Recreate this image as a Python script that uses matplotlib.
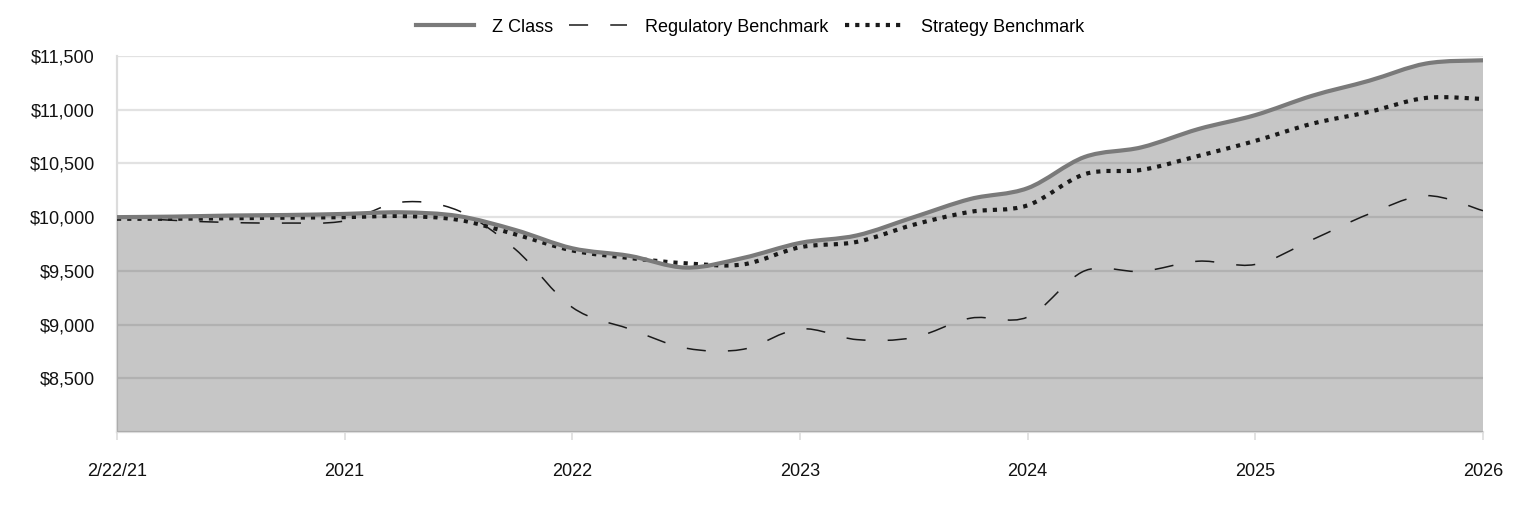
import numpy as np
import matplotlib
matplotlib.use("Agg")
import matplotlib.pyplot as plt
from matplotlib.path import Path
from matplotlib.patches import PathPatch
from matplotlib.lines import Line2D

plt.rcParams['font.family'] = ['Liberation Sans', 'DejaVu Sans']

# ---- data (quarterly observations, period index in years from start) ----
quarter_index = list(range(25))
z_class = [10000, 10005, 10015, 10020, 10030, 10045, 10010, 9880, 9710, 9640,
           9530, 9620, 9760, 9830, 10000, 10170, 10270, 10560, 10650, 10820,
           10950, 11130, 11270, 11430, 11460]
strategy_benchmark = [9985, 9985, 9990, 9995, 10000, 10010, 9975, 9840, 9690, 9620,
                      9570, 9560, 9720, 9770, 9930, 10050, 10110, 10400, 10440, 10570,
                      10710, 10870, 10980, 11110, 11100]
regulatory_benchmark = [10000, 9970, 9950, 9945, 9965, 10140, 10060, 9700, 9160, 8960,
                        8780, 8770, 8960, 8860, 8880, 9060, 9070, 9500, 9495, 9590,
                        9560, 9790, 10030, 10200, 10060]
tick_labels = ["2/22/21", "2021", "2022", "2023", "2024", "2025", "2026"]
y_ticks = [8500, 9000, 9500, 10000, 10500, 11000, 11500]
series_names = ["Z Class", "Regulatory Benchmark", "Strategy Benchmark"]

x = np.array(quarter_index) / 4.0


def smooth_verts(xs, ys):
    xs = np.asarray(xs, float)
    ys = np.asarray(ys, float)
    n = len(xs)
    verts = [(xs[0], ys[0])]
    codes = [Path.MOVETO]
    for i in range(n - 1):
        p0 = i - 1 if i > 0 else i
        p3 = i + 2 if i + 2 < n else i + 1
        c1 = (xs[i] + (xs[i + 1] - xs[p0]) / 6, ys[i] + (ys[i + 1] - ys[p0]) / 6)
        c2 = (xs[i + 1] - (xs[p3] - xs[i]) / 6, ys[i + 1] - (ys[p3] - ys[i]) / 6)
        verts += [c1, c2, (xs[i + 1], ys[i + 1])]
        codes += [Path.CURVE4] * 3
    return verts, codes


fig = plt.figure(figsize=(15.24, 5.16), dpi=100)
ax = fig.add_axes([117 / 1524, 1 - 432 / 516, (1483 - 117) / 1524, (432 - 56) / 516])

ymin, ymax = 8000, 11500
ax.set_xlim(0, 6)
ax.set_ylim(ymin, ymax)

# area fill under Z Class
v, c = smooth_verts(x, z_class)
fv = v + [(x[-1], ymin), (x[0], ymin), (x[0], v[0][1])]
fc = c + [Path.LINETO, Path.LINETO, Path.CLOSEPOLY]
ax.add_patch(PathPatch(Path(fv, fc), facecolor='#333333', alpha=0.28,
                       edgecolor='none', zorder=2))

z_style = dict(edgecolor='#7a7a7a', linewidth=3.0, linestyle='-')
reg_style = dict(edgecolor='#1a1a1a', linewidth=1.1, linestyle=(0, (12.5, 14.5)))
str_style = dict(edgecolor='#1a1a1a', linewidth=3.0, linestyle=(0, (1.0, 1.45)))

vr, cr = smooth_verts(x, regulatory_benchmark)
ax.add_patch(PathPatch(Path(vr, cr), fill=False, capstyle='butt', zorder=3, **reg_style))
vs, cs = smooth_verts(x, strategy_benchmark)
ax.add_patch(PathPatch(Path(vs, cs), fill=False, capstyle='butt', zorder=4, **str_style))
ax.add_patch(PathPatch(Path(v, c), fill=False, capstyle='round', joinstyle='round',
                       zorder=5, **z_style))

# grid & axes styling
ax.set_axisbelow(True)
ax.yaxis.grid(True, color='#e2e2e2', linewidth=1.6, zorder=0)
ax.set_yticks(y_ticks)
ax.set_yticklabels([f"${t:,}" for t in y_ticks])
ax.set_xticks(range(7))
ax.set_xticklabels(tick_labels)
for s in ['top', 'right']:
    ax.spines[s].set_visible(False)
for s in ['left', 'bottom']:
    ax.spines[s].set_color('#dcdcdc')
    ax.spines[s].set_linewidth(1.6)
    ax.spines[s].set_zorder(1)
ax.tick_params(axis='y', length=0, pad=16, labelsize=13, labelcolor='#111111')
ax.tick_params(axis='x', length=6, width=1.4, color='#e2e2e2', pad=16,
               labelsize=13, labelcolor='#111111')

handles = [
    Line2D([], [], color='#7a7a7a', linewidth=3.0, linestyle='-'),
    Line2D([], [], color='#1a1a1a', linewidth=1.1, linestyle=(0, (12.5, 14.5))),
    Line2D([], [], color='#1a1a1a', linewidth=3.0, linestyle=(0, (1.0, 1.45)),
           dash_capstyle='butt'),
]
fig.legend(handles, series_names, loc='center', bbox_to_anchor=(750 / 1524, 1 - 27 / 516),
           ncol=3, frameon=False, fontsize=13, handlelength=3.2, handletextpad=1.0,
           columnspacing=0.9)

fig.savefig("out.png", dpi=100)
